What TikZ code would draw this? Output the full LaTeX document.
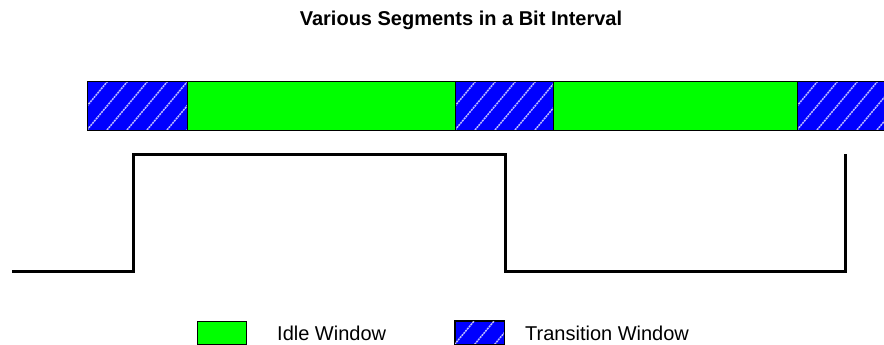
\documentclass[tikz,border=0pt]{standalone}
\usepackage{fontspec}
\setmainfont{Liberation Sans}
\usetikzlibrary{calc}

\definecolor{idlegreen}{RGB}{0,255,0}
\definecolor{transblue}{RGB}{0,0,255}

\tikzset{
  segbox/.style={draw=black, line width=1pt, minimum height=48pt, inner sep=0pt, outer sep=0pt},
  idleseg/.style={segbox, fill=idlegreen},
  transseg/.style={segbox, fill=transblue},
  legbox/.style={draw=black, line width=0.8pt, minimum width=49pt, minimum height=23pt, inner sep=0pt},
  legtext/.style={anchor=west, inner sep=0pt, font=\fontsize{20}{24}\selectfont},
  hatchline/.style={draw=white!75!transblue, line width=1.5pt, dash pattern=on 2pt off 0.8pt},
  wave/.style={line width=3pt, line join=miter}
}

% white diagonal hatching inside a named box
\newcommand\hatchbox[1]{%
  \begin{scope}
    \clip (#1.south west) rectangle (#1.north east);
    \foreach \k in {-60,-40,...,300}{
      \draw[hatchline] ($(#1.south west)+(\k,0)$) -- ++(50,-60);
    }
  \end{scope}
  \draw[line width=1pt] (#1.south west) rectangle (#1.north east);
}

\begin{document}
\begin{tikzpicture}[x=1pt, y=-1pt]
  \useasboundingbox (0,0) rectangle (884,345);

  % title
  \node[font=\fontsize{20}{24}\selectfont\bfseries] (title) at (461,20) {Various Segments in a Bit Interval};

  % segment bar
  \node[transseg, minimum width=100pt] (t1) at (137,106) {};
  \node[idleseg,  minimum width=268pt] (i1) at (321,106) {};
  \node[transseg, minimum width=98pt]  (t2) at (504,106) {};
  \node[idleseg,  minimum width=244pt] (i2) at (675,106) {};
  \node[transseg, minimum width=88pt]  (t3) at (841,106) {};
  \hatchbox{t1}
  \hatchbox{t2}
  \hatchbox{t3}

  % bit waveform
  \coordinate (w0) at (12,271);
  \coordinate (w1) at (133,271);
  \coordinate (w2) at (133,154);
  \coordinate (w3) at (505,154);
  \coordinate (w4) at (505,271);
  \coordinate (w5) at (845,271);
  \coordinate (w6) at (845,154);
  \draw[wave] (w0) -- (w1) -- (w2) -- (w3) -- (w4) -- (w5) -- (w6);

  % legend
  \node[legbox, fill=idlegreen] (legidle) at (221.5,332.5) {};
  \node[legtext] (legidletext) at (277,333) {Idle Window};
  \node[legbox, fill=transblue] (legtrans) at (479.5,332.5) {};
  \hatchbox{legtrans}
  \node[legtext] (legtranstext) at (525,333) {Transition Window};
\end{tikzpicture}
\end{document}
